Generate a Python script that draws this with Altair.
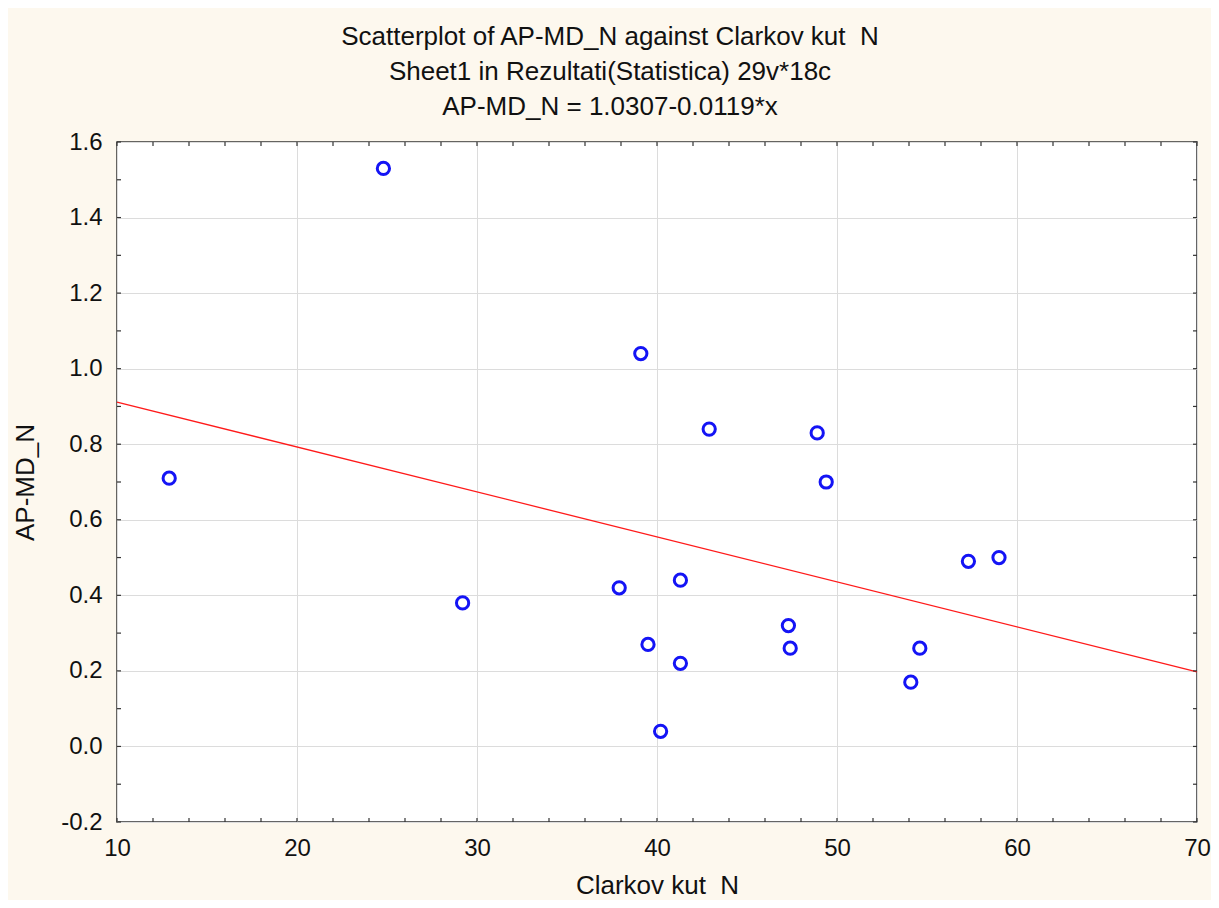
import altair as alt
import pandas as pd

# Data
x_vals = [24.8, 12.9, 29.2, 37.9, 39.1, 39.5, 40.2, 41.3, 41.3, 42.9, 47.3, 47.4, 48.9, 49.4, 54.1, 54.6, 57.3, 59.0]
y_vals = [1.53, 0.71, 0.38, 0.42, 1.04, 0.27, 0.04, 0.44, 0.22, 0.84, 0.32, 0.26, 0.83, 0.70, 0.17, 0.26, 0.49, 0.50]

intercept = 1.0307
slope = -0.0119
line_x = [10, 70]

x_minor = [10, 12, 14, 16, 18, 20, 22, 24, 26, 28, 30, 32, 34, 36, 38, 40, 42, 44, 46, 48, 50,
           52, 54, 56, 58, 60, 62, 64, 66, 68, 70]
y_minor = [-0.2, -0.1, 0.0, 0.1, 0.2, 0.3, 0.4, 0.5, 0.6, 0.7, 0.8, 0.9, 1.0, 1.1, 1.2, 1.3, 1.4, 1.5, 1.6]

W, H = 1080, 680
FONT = "Liberation Sans"

pts = pd.DataFrame({"x": x_vals, "y": y_vals})
line_df = pd.DataFrame({"x": line_x, "y": [intercept + slope * v for v in line_x]})
xt = pd.DataFrame({"xt": x_minor})
yt = pd.DataFrame({"yt": y_minor})

xscale = alt.Scale(domain=[10, 70], nice=False, zero=False)
yscale = alt.Scale(domain=[-0.2, 1.6], nice=False, zero=False)

xaxis = alt.Axis(
    title="Clarkov kut\u00a0 N", values=[10, 20, 30, 40, 50, 60, 70], format="d",
    grid=True, gridColor="#dcdcdc", gridWidth=1, ticks=False, domain=False, labelFlush=False,
    labelFontSize=24, labelFont=FONT, labelColor="#111", labelPadding=14,
    titleFontSize=26, titleFont=FONT, titleFontWeight="normal", titleColor="#111", titlePadding=12,
)
yaxis = alt.Axis(
    title="AP-MD_N", values=[-0.2, 0.0, 0.2, 0.4, 0.6, 0.8, 1.0, 1.2, 1.4, 1.6],
    labelExpr="datum.value < 0 ? '-' + format(-datum.value, '.1f') : format(datum.value, '.1f')",
    grid=True, gridColor="#dcdcdc", gridWidth=1, ticks=False, domain=False, labelFlush=False,
    labelFontSize=24, labelFont=FONT, labelColor="#111", labelPadding=15,
    titleFontSize=26, titleFont=FONT, titleFontWeight="normal", titleColor="#111", titlePadding=22,
)

points = alt.Chart(pts).mark_point(
    shape="circle", filled=False, stroke="#1414f5", strokeWidth=3, size=150, opacity=1
).encode(
    x=alt.X("x:Q", scale=xscale, axis=xaxis),
    y=alt.Y("y:Q", scale=yscale, axis=yaxis),
)

reg = alt.Chart(line_df).mark_line(color="#ff1a1a", strokeWidth=1.3).encode(
    x=alt.X("x:Q", scale=xscale, axis=xaxis),
    y=alt.Y("y:Q", scale=yscale, axis=yaxis),
)

tick_color = "#333333"
bottom_ticks = alt.Chart(xt).mark_rule(color=tick_color, strokeWidth=1.2).encode(
    x=alt.X("xt:Q", scale=xscale, axis=xaxis), y=alt.value(H), y2=alt.value(H - 4))
top_ticks = alt.Chart(xt).mark_rule(color=tick_color, strokeWidth=1.2).encode(
    x=alt.X("xt:Q", scale=xscale, axis=xaxis), y=alt.value(0), y2=alt.value(4))
left_ticks = alt.Chart(yt).mark_rule(color=tick_color, strokeWidth=1.2).encode(
    y=alt.Y("yt:Q", scale=yscale, axis=yaxis), x=alt.value(0), x2=alt.value(4))
right_ticks = alt.Chart(yt).mark_rule(color=tick_color, strokeWidth=1.2).encode(
    y=alt.Y("yt:Q", scale=yscale, axis=yaxis), x=alt.value(W), x2=alt.value(W - 4))

chart = alt.layer(reg, points, bottom_ticks, top_ticks, left_ticks, right_ticks).properties(
    width=W, height=H,
    title=alt.TitleParams(
        text=["Scatterplot of AP-MD_N against Clarkov kut\u00a0 N",
              "Sheet1 in Rezultati(Statistica) 29v*18c",
              "AP-MD_N = 1.0307-0.0119*x"],
        fontSize=26, font=FONT, fontWeight="normal", color="#111",
        anchor="middle", dx=-47, lineHeight=35, offset=10,
    ),
    background="#fdf8ee",
    padding={"left": 109, "top": 134, "right": 14, "bottom": 78},
    autosize=alt.AutoSizeParams(type="none"),
).configure_view(
    fill="white", stroke="#333333", strokeWidth=1.5
)

chart.save("out.html", embed_options={"renderer": "svg", "actions": False})
